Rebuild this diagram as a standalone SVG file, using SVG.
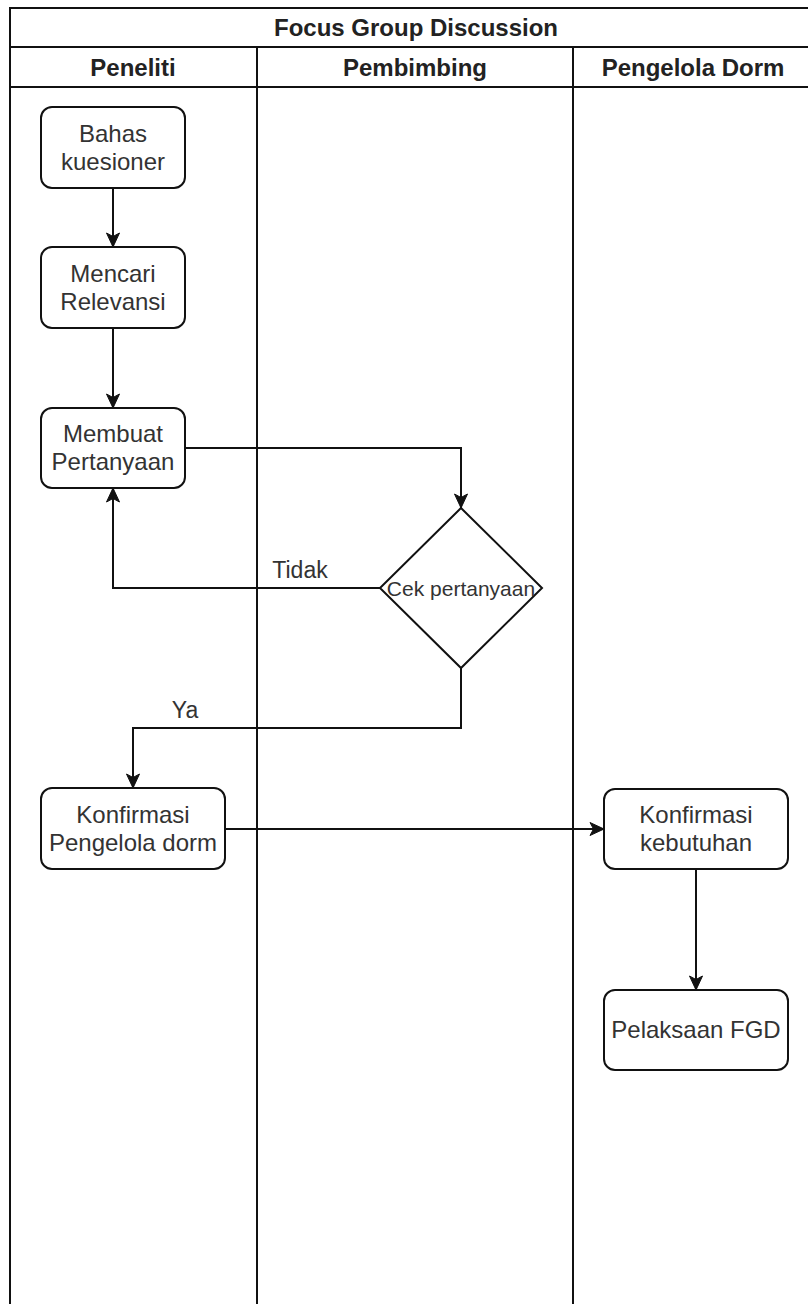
<svg xmlns="http://www.w3.org/2000/svg" width="808" height="1304" viewBox="0 0 808 1304">
<style>
.pool{fill:none;stroke:#111;stroke-width:2}
.node{fill:#fff;stroke:#111;stroke-width:2}
.edge{fill:none;stroke:#111;stroke-width:2}
.t{font-family:"Liberation Sans",Arial,sans-serif;font-size:24px;fill:#333;text-anchor:middle}
.h{font-family:"Liberation Sans",Arial,sans-serif;font-size:24px;font-weight:bold;fill:#222;text-anchor:middle}
.s{font-family:"Liberation Sans",Arial,sans-serif;font-size:21px;fill:#333;text-anchor:middle}
.l{font-family:"Liberation Sans",Arial,sans-serif;font-size:23px;fill:#333;text-anchor:middle}
</style>
<defs>
<marker id="arr" markerUnits="userSpaceOnUse" markerWidth="16" markerHeight="16" viewBox="0 0 16 16" refX="15" refY="8" orient="auto">
<path d="M1,1.5 L15,8 L1,14.5 L4.5,8 Z" fill="#111" stroke="#111" stroke-width="1"/>
</marker>
</defs>
<rect width="808" height="1304" fill="#fff"/>
<g id="pool">
<rect class="pool" x="10" y="8" width="814" height="1310"/>
<line class="pool" x1="10" y1="47" x2="824" y2="47"/>
<line class="pool" x1="10" y1="87" x2="824" y2="87"/>
<line class="pool" x1="257" y1="47" x2="257" y2="1318"/>
<line class="pool" x1="573" y1="47" x2="573" y2="1318"/>
<text class="h" x="416" y="36">Focus Group Discussion</text>
<text class="h" x="133" y="76">Peneliti</text>
<text class="h" x="415" y="76">Pembimbing</text>
<text class="h" x="693" y="76">Pengelola Dorm</text>
</g>
<g id="connectors">
<path class="edge" d="M113,188 L113,247" marker-end="url(#arr)"/>
<path class="edge" d="M113,328 L113,408" marker-end="url(#arr)"/>
<path class="edge" d="M185,448 L461,448 L461,508" marker-end="url(#arr)"/>
<path class="edge" d="M380,588 L113,588 L113,488" marker-end="url(#arr)"/>
<path class="edge" d="M461,668 L461,728 L133,728 L133,788" marker-end="url(#arr)"/>
<path class="edge" d="M225,829 L604,829" marker-end="url(#arr)"/>
<path class="edge" d="M696,869 L696,990" marker-end="url(#arr)"/>
<text class="l" x="300" y="578">Tidak</text>
<text class="l" x="185" y="718">Ya</text>
</g>
<g id="n1">
<rect class="node" x="41" y="107" width="144" height="81" rx="11"/>
<text class="t" x="113" y="142">Bahas</text>
<text class="t" x="113" y="170">kuesioner</text>
</g>
<g id="n2">
<rect class="node" x="41" y="247" width="144" height="81" rx="11"/>
<text class="t" x="113" y="282">Mencari</text>
<text class="t" x="113" y="310">Relevansi</text>
</g>
<g id="n3">
<rect class="node" x="41" y="408" width="144" height="80" rx="11"/>
<text class="t" x="113" y="442">Membuat</text>
<text class="t" x="113" y="470">Pertanyaan</text>
</g>
<g id="n4">
<polygon class="node" points="461,508 542,588 461,668 380,588"/>
<text class="s" x="461" y="596">Cek pertanyaan</text>
</g>
<g id="n5">
<rect class="node" x="41" y="788" width="184" height="81" rx="11"/>
<text class="t" x="133" y="823">Konfirmasi</text>
<text class="t" x="133" y="851">Pengelola dorm</text>
</g>
<g id="n6">
<rect class="node" x="604" y="789" width="184" height="80" rx="11"/>
<text class="t" x="696" y="823">Konfirmasi</text>
<text class="t" x="696" y="851">kebutuhan</text>
</g>
<g id="n7">
<rect class="node" x="604" y="990" width="184" height="80" rx="11"/>
<text class="t" x="696" y="1038">Pelaksaan FGD</text>
</g>
</svg>
